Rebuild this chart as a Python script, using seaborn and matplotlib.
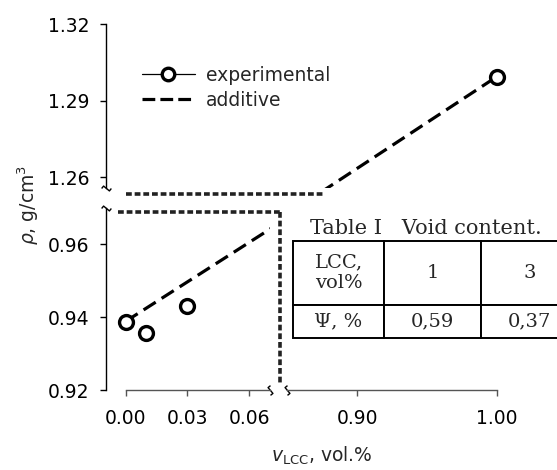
import seaborn as sns
import numpy as np
import matplotlib.pyplot as plt
from matplotlib.lines import Line2D
from matplotlib.ticker import FormatStrFormatter

# experimental density vs LCC content
exp_lcc = [0.00, 0.01, 0.03, 1.00]
exp_rho = [0.9386, 0.9356, 0.9430, 1.2994]
# additive rule: straight line between the two pure components
add_lcc = [0.00, 1.00]
add_rho = [0.9388, 1.2994]

xticks_left = [0.00, 0.03, 0.06]
xticks_right = [0.90, 1.00]
yticks_low = [0.92, 0.94, 0.96]
yticks_up = [1.26, 1.29, 1.32]

table_title = 'Table I   Void content.'
table_row1 = ['LCC,\nvol%', '1', '3']
table_row2 = ['\u03a8, %', '0,59', '0,37']

sns.set_style('ticks')
plt.rcParams['font.family'] = ['DejaVu Sans']
plt.rcParams['mathtext.fontset'] = 'dejavusans'

W, H = 557, 470
fig = plt.figure(figsize=(W / 100, H / 100), dpi=100)


def px_axes(left, top, right, bottom):
    return fig.add_axes([left / W, 1 - bottom / H, (right - left) / W, (bottom - top) / H])


# broken axes: columns (left/right x), rows (upper/lower y)
xl_lim = (-0.0095, 0.0702)
xr_lim = (0.85, 1.03)
yu_lim = (1.2557, 1.32)
yl_lim = (0.92, 0.9699)

ax_ll = px_axes(106, 208, 270, 390)
ax_lr = px_axes(287, 208, 539, 390)
ax_ul = px_axes(106, 24, 270, 188)
ax_ur = px_axes(287, 24, 539, 188)
panels = [(ax_ll, xl_lim, yl_lim), (ax_lr, xr_lim, yl_lim),
          (ax_ul, xl_lim, yu_lim), (ax_ur, xr_lim, yu_lim)]

for ax, xlim, ylim in panels:
    ax.patch.set_alpha(0)
    sns.lineplot(x=add_lcc, y=add_rho, ax=ax, color='black', lw=2.3,
                 linestyle=(0, (4.5, 2.2)))
    ax.plot(exp_lcc, exp_rho, 'o', ms=10, mfc='white', mec='black', mew=2.4)
    ax.set_xlim(*xlim)
    ax.set_ylim(*ylim)
    for s in ax.spines.values():
        s.set_visible(False)
    ax.set_xticks([])
    ax.set_yticks([])
    ax.tick_params(labelsize=13.5, colors='black')

# left y axis
for ax, ticks, ylim in [(ax_ll, yticks_low, yl_lim), (ax_ul, yticks_up, yu_lim)]:
    ax.spines['left'].set_visible(True)
    ax.spines['left'].set_color('black')
    ax.spines['left'].set_linewidth(1.0)
    ax.spines['left'].set_bounds(ylim[0], ylim[1])
    ax.set_yticks(ticks)
    ax.yaxis.set_major_formatter(FormatStrFormatter('%.2f'))
    ax.tick_params(axis='y', length=4, width=1.0, pad=8, direction='out')

# bottom x axis
for ax, ticks, bounds in [(ax_ll, xticks_left, (0.0, xl_lim[1])),
                          (ax_lr, xticks_right, (xr_lim[0], 1.00))]:
    ax.spines['bottom'].set_visible(True)
    ax.spines['bottom'].set_color('#555555')
    ax.spines['bottom'].set_linewidth(1.0)
    ax.spines['bottom'].set_bounds(*bounds)
    ax.set_xticks(ticks)
    ax.xaxis.set_major_formatter(FormatStrFormatter('%.2f'))
    ax.tick_params(axis='x', length=4, width=1.0, pad=10, direction='out',
                   color='#555555')

# small break marks at the spine ends
brk_v = [(0, -1), (0.5, -0.6), (-0.5, 0.6), (0, 1)]
brk_h = [(-1, 0), (-0.6, 0.5), (0.6, -0.5), (1, 0)]
for ax, pos, verts in [(ax_ll, (1, 0), brk_v), (ax_lr, (0, 0), brk_v),
                       (ax_ll, (0, 1), brk_h), (ax_ul, (0, 0), brk_h)]:
    ax.plot([pos[0]], [pos[1]], marker=verts, ms=7, mew=1.0, mfc='none',
            mec='black', transform=ax.transAxes, clip_on=False)

# dotted guide lines marking the break
guide = dict(color='#222222', lw=2.6, linestyle=(0, (1.6, 0.8)))
for xs, ys in [([126, 323], [194, 194]), ([118, 280], [212, 212]),
               ([280, 280], [212, 383])]:
    fig.add_artist(Line2D([x / W for x in xs], [1 - y / H for y in ys],
                          transform=fig.transFigure, **guide))

# legend
handles = [Line2D([], [], color='black', lw=0.9, marker='o', ms=9,
                  mfc='white', mec='black', mew=2.4),
           Line2D([], [], color='black', lw=2.3, linestyle=(0, (4.0, 1.6)))]
ax_ul.legend(handles, ['experimental', 'additive'], loc='upper left',
             bbox_to_anchor=(142 / W, 1 - 66 / H), bbox_transform=fig.transFigure,
             frameon=False, fontsize=13.5, handlelength=2.8, handletextpad=0.6,
             labelspacing=0.32, borderpad=0, borderaxespad=0)

# axis labels
fig.text(28 / W, 1 - 205 / H, r'$\rho$, g/cm$^3$', rotation=90,
         ha='center', va='center', fontsize=13.5)
fig.text(322 / W, 1 - 456 / H, r'$v_{\rm LCC}$, vol.%', ha='center',
         va='center', fontsize=13.5)

# inset table
tab_ax = px_axes(293, 241, 578, 338)
tab_ax.axis('off')
tab = tab_ax.table(cellText=[table_row1, table_row2], cellLoc='center',
                   colWidths=[91, 97, 97], bbox=[0, 0, 1, 1])
tab.auto_set_font_size(False)
for (r, c), cell in tab.get_celld().items():
    cell.set_height(64 if r == 0 else 33)
    cell.set_linewidth(1.4)
    cell.get_text().set_fontsize(14)
    cell.get_text().set_fontfamily('DejaVu Serif')
fig.text(310 / W, 1 - 229 / H, table_title, ha='left', va='center',
         fontsize=15, family='DejaVu Serif')

fig.savefig('out.png', dpi=100)
